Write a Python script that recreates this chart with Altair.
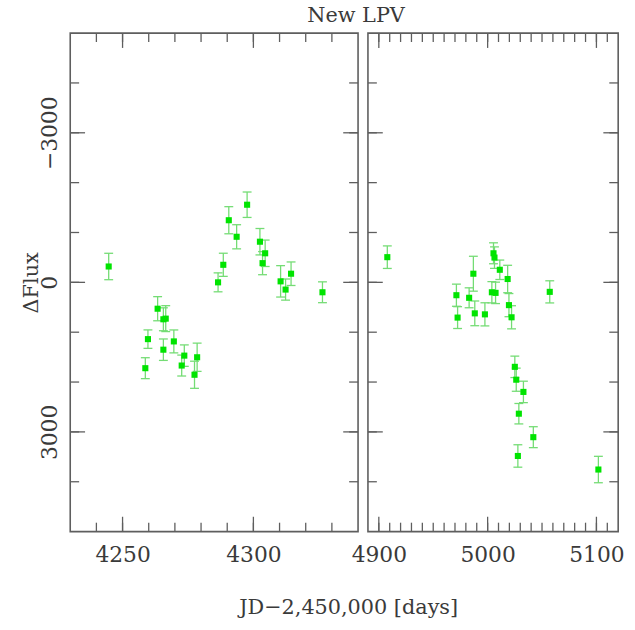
import altair as alt
import pandas as pd

# ---- data ----
jd_early = [4244.7, 4258.7, 4259.7, 4263.4, 4265.6, 4265.6, 4266.5, 4269.6, 4272.6, 4273.6,
            4277.5, 4278.5, 4286.5, 4288.5, 4290.6, 4293.6, 4297.6, 4302.5, 4303.5, 4304.5,
            4310.4, 4312.3, 4314.4, 4326.4]
flux_early = [-318, 1722, 1139, 529, 741, 1351, 728, 1185, 1669, 1470,
              1854, 1503, 0, -352, -1246, -914, -1557, -815, -385, -583,
              -20, 145, -173, 199]
err_early = [265, 210, 185, 242, 230, 215, 260, 230, 210, 215,
             272, 285, 190, 232, 272, 242, 255, 265, 232, 265,
             315, 212, 236, 209]

jd_late = [4907.8, 4971.3, 4972.4, 4983.0, 4986.9, 4988.2, 4997.5, 5003.9, 5005.4, 5006.3,
           5007.3, 5011.2, 5018.4, 5019.6, 5022.0, 5025.0, 5026.3, 5027.8, 5028.7, 5032.9,
           5042.0, 5057.1, 5101.8]
flux_late = [-505, 258, 707, 310, -173, 622, 642, 199, -583, -497,
             211, -252, -67, 457, 701, 1695, 1953, 3483, 2635, 2198,
             3106, 191, 3755]
err_late = [226, 222, 219, 200, 350, 248, 232, 215, 210, 215,
            215, 195, 275, 232, 232, 215, 232, 225, 205, 215,
            210, 222, 265]

x_domain_early = [4230, 4340]
x_major_early = [4250, 4300]
x_minor_early = list(range(4240, 4331, 10))
x_domain_late = [4890, 5120]
x_major_late = [4900, 5000, 5100]
x_minor_late = list(range(4900, 5111, 10))
y_domain = [-5000, 5000]
y_major = [-3000, 0, 3000]
y_minor = list(range(-4000, 4001, 1000))

title_text = "New LPV"
x_title = "JD\u22122,450,000 [days]"
y_title = "\u0394Flux"

FONT = "DejaVu Serif"
INK = "#3a3a3a"
FRAME = "#5e5e5e"
PT = "#00e400"
ERR = "#74dc74"
MAJ = 15   # major tick length, px
MIN = 9    # minor tick length, px
H = 504


def frame(jd, flux, err):
    return pd.DataFrame({
        "jd": jd, "flux": flux, "err": err,
        "lo": [f - e for f, e in zip(flux, err)],
        "hi": [f + e for f, e in zip(flux, err)],
    })


def tick_table(major, minor, lo_edge, hi_edge, unit):
    """Inward ticks on both edges of one axis: one row per tick (value, edge, inner end)."""
    rows = []
    for vals, length in ((major, MAJ), (minor, MIN)):
        for v in vals:
            rows.append({"v": v, "edge": lo_edge, "inner": lo_edge + length * unit})
            rows.append({"v": v, "edge": hi_edge, "inner": hi_edge - length * unit})
    return pd.DataFrame(rows)


def panel(df, xdom, xmaj, xmin, width, first):
    xs = alt.Scale(domain=xdom, nice=False, zero=False)
    ys = alt.Scale(domain=y_domain, reverse=True, nice=False, zero=False)

    bx_kw = dict(orient="bottom", values=xmaj, ticks=False, domain=False,
                 grid=False, format="d", labelFont=FONT, labelFontSize=22,
                 labelColor=INK, labelPadding=13, labelFlush=False, labelOverlap=False)
    if first:
        bx_kw.update(title=x_title, titleFont=FONT, titleFontSize=21, titleFontWeight="normal",
                     titleColor=INK, titleX=281, titleY=83, titleAlign="center",
                     titleBaseline="alphabetic", titleAnchor="start")
    else:
        bx_kw.update(title=None)
    x_axis = alt.Axis(**bx_kw)

    if first:
        y_axis = alt.Axis(orient="left", values=y_major, ticks=False,
                          domain=False, grid=False, format="d", labelFont=FONT,
                          labelFontSize=22, labelColor=INK, labelAngle=270,
                          labelAlign="center", labelBaseline="alphabetic",
                          labelPadding=14, labelFlush=False, labelOverlap=False,
                          title=y_title, titleFont=FONT, titleFontSize=21,
                          titleFontWeight="normal", titleColor=INK, titleAngle=270,
                          titleX=-33, titleY=252, titleAlign="center",
                          titleBaseline="alphabetic", titleAnchor="start")
    else:
        y_axis = None

    def X(field):
        return alt.X(field, type="quantitative", scale=xs, axis=x_axis)

    def Y(field):
        return alt.Y(field, type="quantitative", scale=ys, axis=y_axis)

    y_unit = (y_domain[1] - y_domain[0]) / H
    x_unit = (xdom[1] - xdom[0]) / width
    xt = tick_table(xmaj, xmin, y_domain[0], y_domain[1], y_unit)
    yt = tick_table(y_major, y_minor, xdom[0], xdom[1], x_unit)

    x_ticks = alt.Chart(xt).mark_rule(color=FRAME, strokeWidth=1.3).encode(
        x=X("v"), y=Y("edge"), y2=alt.Y2("inner"))
    y_ticks = alt.Chart(yt).mark_rule(color=FRAME, strokeWidth=1.3).encode(
        y=Y("v"), x=X("edge"), x2=alt.X2("inner"))

    base = alt.Chart(df)
    rules = base.mark_rule(color=ERR, strokeWidth=1.3).encode(x=X("jd"), y=Y("lo"), y2="hi:Q")
    caps_lo = base.mark_tick(color=ERR, orient="horizontal", size=9, thickness=1.3,
                             opacity=1).encode(x=X("jd"), y=Y("lo"))
    caps_hi = base.mark_tick(color=ERR, orient="horizontal", size=9, thickness=1.3,
                             opacity=1).encode(x=X("jd"), y=Y("hi"))
    pts = base.mark_square(color=PT, opacity=1, size=38).encode(x=X("jd"), y=Y("flux"))
    return alt.layer(rules, caps_lo, caps_hi, pts, x_ticks, y_ticks).properties(
        width=width, height=H)


left = panel(frame(jd_early, flux_early, err_early), x_domain_early, x_major_early,
             x_minor_early, 291, True)
right = panel(frame(jd_late, flux_late, err_late), x_domain_late, x_major_late,
              x_minor_late, 253, False)

chart = alt.hconcat(left, right, spacing=10, bounds="flush").properties(
    title=alt.TitleParams(title_text, font=FONT, fontSize=21, fontWeight="normal",
                          color=INK, anchor="middle", offset=6, dx=34),
    padding={"left": 20, "right": 10, "top": 1, "bottom": 5},
).configure_view(stroke=FRAME, strokeWidth=1.6)

chart.save("out.html", embed_options={"renderer": "svg", "actions": False})
